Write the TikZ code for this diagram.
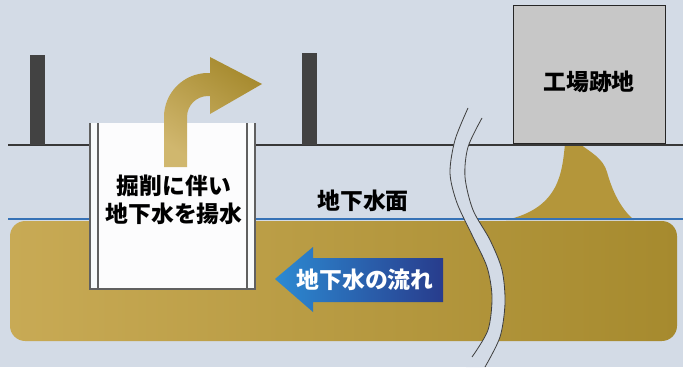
\documentclass[tikz,border=0pt]{standalone}
\usepackage{fontspec}
\newfontfamily\jpfont{Noto Sans CJK JP}
\usepackage{tikz}
\usetikzlibrary{positioning}
\usetikzlibrary{shapes,backgrounds,calc}
\definecolor{sky}{HTML}{D3DBE6}
\definecolor{soil}{HTML}{B4963A}
\definecolor{soildark}{HTML}{A68A2E}
\definecolor{soillight}{HTML}{C8AA55}
\definecolor{line}{HTML}{383838}
\definecolor{water}{HTML}{3672B6}
\definecolor{flowlight}{HTML}{2C8AD2}
\definecolor{flowdark}{HTML}{283C8C}
\tikzset{
    % Define ground and water lines
    ground/.style={
           draw=line,
           line width=2.5pt,},
    wline/.style={
           draw=water,
           line width=1.4pt,},
    % Define text style
    jplbl/.style={
           font=\jpfont\bfseries\fontsize{19.5}{24}\selectfont,
           align=center,
           inner sep=0pt,}
}
\newcommand{\pxunit}{0.03cm}

\begin{document}
\begin{tikzpicture}[x=\pxunit, y=-\pxunit]
\tikzstyle{pile}=[draw=line!80, line width=0.9pt]
\tikzstyle{post}=[fill=line!95]
\tikzstyle{breakline}=[draw=black!75, line width=0.7pt]

\fill[sky] (0,0) rectangle (683,367);
\useasboundingbox (0,0) rectangle (683,367);

% aquifer
\shade[left color=soillight, right color=soildark, rounded corners=13pt] (10,221) rectangle (677,341);

% plume under the factory
\fill[soil] (565,144) .. controls (562,172) and (560,208) .. (506,220)
    -- (634,220) .. controls (620,208) and (612,190) .. (607,172)
    .. controls (603,158) and (590,152) .. (580,144) -- cycle;

% lines
\path[wline] (8,219) -- (90,219);
\path[wline] (255,219) -- (683,219);
\path[ground] (8,145) -- (90,145);
\path[ground] (255,145) -- (683,145);

% posts
\path[post] (30,55) rectangle (45,145);
\path[post] (302,53) rectangle (317,145);

% factory site
\draw[fill=black!22, draw=black!85, line width=0.8pt] (513,5) rectangle (665,143);
\node[jplbl] (factory) at (589,82) {工場跡地};

% excavation
\fill[white!85!sky] (90,123) rectangle (255,289);
\fill[white!93!sky] (98,123) rectangle (247,289);
\path[pile] (90,123) -- (90,289) -- (255,289) -- (255,123);
\path[pile] (98,123) -- (98,289);
\path[pile] (247,123) -- (247,289);

% pumped water arrow
\shade[top color=soildark, bottom color=soillight!85!white, shading angle=-35]
    (164,167) -- (164,117) .. controls (164,92.7) and (183.7,73) .. (208,73)
    -- (210,73) -- (210,57) -- (262,84) -- (210,114) -- (210,96) -- (208,96)
    .. controls (196.4,96) and (187,105.4) .. (187,117) -- (187,167) -- cycle;

\node[jplbl] (pump) at (174,200) {掘削に伴い\\地下水を揚水};
\node[jplbl] (level) at (363,201) {地下水面};

% flow arrow
\shade[left color=flowlight, right color=flowdark]
    (275,279) -- (313,247) -- (313,258) -- (443,258) -- (443,302)
    -- (313,302) -- (313,312) -- cycle;
\node[jplbl, text=white] (flow) at (365,280) {地下水の流れ};

% break
\fill[sky] plot[smooth] coordinates {(468,108) (455,140) (450,173) (457,203) (473,237) (487,267) (492,297) (488,330) (472,357) (466,367)}
    -- plot[smooth] coordinates {(485,367) (500,337) (505,303) (502,270) (490,240) (473,210) (465,177) (468,147) (482,118)} -- cycle;
\path[breakline] plot[smooth] coordinates {(468,108) (455,140) (450,173) (457,203) (473,237) (487,267) (492,297) (488,330) (472,357)};
\path[breakline] plot[smooth] coordinates {(482,118) (468,147) (465,177) (473,210) (490,240) (502,270) (505,303) (500,337) (485,367)};

\end{tikzpicture}
\end{document}
